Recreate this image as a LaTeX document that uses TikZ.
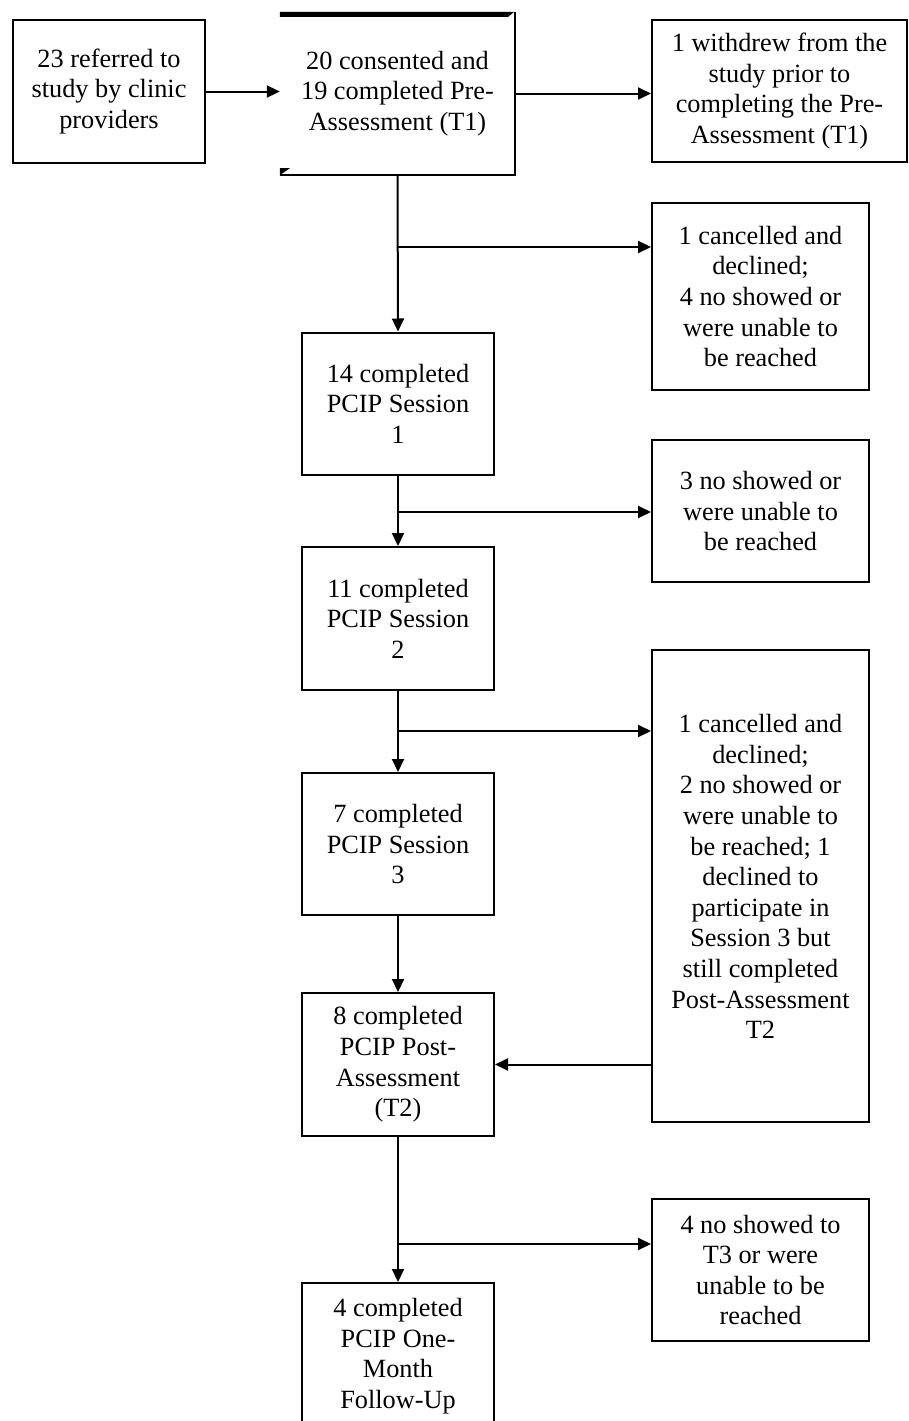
\documentclass[tikz,border=0pt]{standalone}
\usepackage{fontspec}
\setmainfont{Liberation Serif}
\usetikzlibrary{arrows.meta}
\newcommand{\txtfont}{\fontsize{26.3}{30.6}\selectfont}
\tikzset{
  box/.style={draw, line width=2pt, align=center, font=\txtfont, inner sep=0pt},
  plain/.style={align=center, font=\txtfont, inner sep=0pt},
  arr/.style={line width=2pt, -{Triangle[length=13pt,width=12pt]}},
  ln/.style={line width=2pt}
}
\begin{document}
\begin{tikzpicture}[x=1pt,y=-1pt]
\useasboundingbox (0,0) rectangle (908,1421);
% left column / top row
\node[box, minimum width=192pt, minimum height=143pt] (A) at (109,91.5) {23 referred to\\study by clinic\\providers};
\node[plain, minimum width=235pt, minimum height=163pt] (B) at (397.5,93.5) {20 consented and\\19 completed Pre-\\Assessment (T1)};
\fill (B.north west) -- ([xshift=-1pt]B.north east) -- ([xshift=-7pt,yshift=-5pt]B.north east) -- ([yshift=-5pt]B.north west) -- cycle;
\draw[ln] (B.north east) -- (B.south east) -- (B.south west);
\fill ([yshift=7pt]B.south west) -- ([xshift=10pt,yshift=7pt]B.south west) -- (B.south west) -- cycle;
\node[box, minimum width=255pt, minimum height=142pt] (C) at (779.5,91) {1 withdrew from the\\study prior to\\completing the Pre-\\Assessment (T1)};
% center column
\node[box, minimum width=192pt, minimum height=142pt] (E) at (398,403.5) {14 completed\\PCIP Session\\1};
\node[box, minimum width=192pt, minimum height=143pt] (G) at (398,618.5) {11 completed\\PCIP Session\\2};
\node[box, minimum width=192pt, minimum height=142pt] (I) at (398,844) {7 completed\\PCIP Session\\3};
\node[box, minimum width=192pt, minimum height=143pt] (J) at (398,1064.5) {8 completed\\PCIP Post-\\Assessment\\(T2)};
\node[draw, line width=2pt, minimum width=192pt, minimum height=160pt, inner sep=0pt] (L) at (398,1363) {};
\node[plain] (Lt) at (398,1356) {4 completed\\PCIP One-\\Month\\Follow-Up};
% right column
\node[box, minimum width=217pt, minimum height=187pt] (D) at (760.5,296.5) {1 cancelled and\\declined;\\4 no showed or\\were unable to\\be reached};
\node[box, minimum width=217pt, minimum height=142pt] (F) at (760.5,511) {3 no showed or\\were unable to\\be reached};
\node[draw, line width=2pt, minimum width=217pt, minimum height=472pt, inner sep=0pt] (H) at (760.5,886) {};
\node[plain] (Ht) at (760.5,876.5) {1 cancelled and\\declined;\\2 no showed or\\were unable to\\be reached; 1\\declined to\\participate in\\Session 3 but\\still completed\\Post-Assessment\\T2};
\node[box, minimum width=217pt, minimum height=142pt] (K) at (760.5,1270) {4 no showed to\\T3 or were\\unable to be\\reached};
% branch points
\coordinate (b1) at (398,247);
\coordinate (b2) at (398,512);
\coordinate (b3) at (398,731);
\coordinate (b4) at (398,1244);
% connectors
\draw[arr] (A.east) -- (A.east -| B.west);
\draw[arr] (B.east) -- (B.east -| C.west);
\draw[arr] (B.south) -- (E.north);
\draw[arr] (b1) -- (b1 -| D.west);
\draw[arr] (E.south) -- (G.north);
\draw[arr] (b2) -- (b2 -| F.west);
\draw[arr] (G.south) -- (I.north);
\draw[arr] (b3) -- (b3 -| H.west);
\draw[arr] (I.south) -- (J.north);
\draw[arr] (J.east -| H.west) -- (J.east);
\draw[arr] (J.south) -- (L.north);
\draw[arr] (b4) -- (b4 -| K.west);
\end{tikzpicture}
\end{document}
